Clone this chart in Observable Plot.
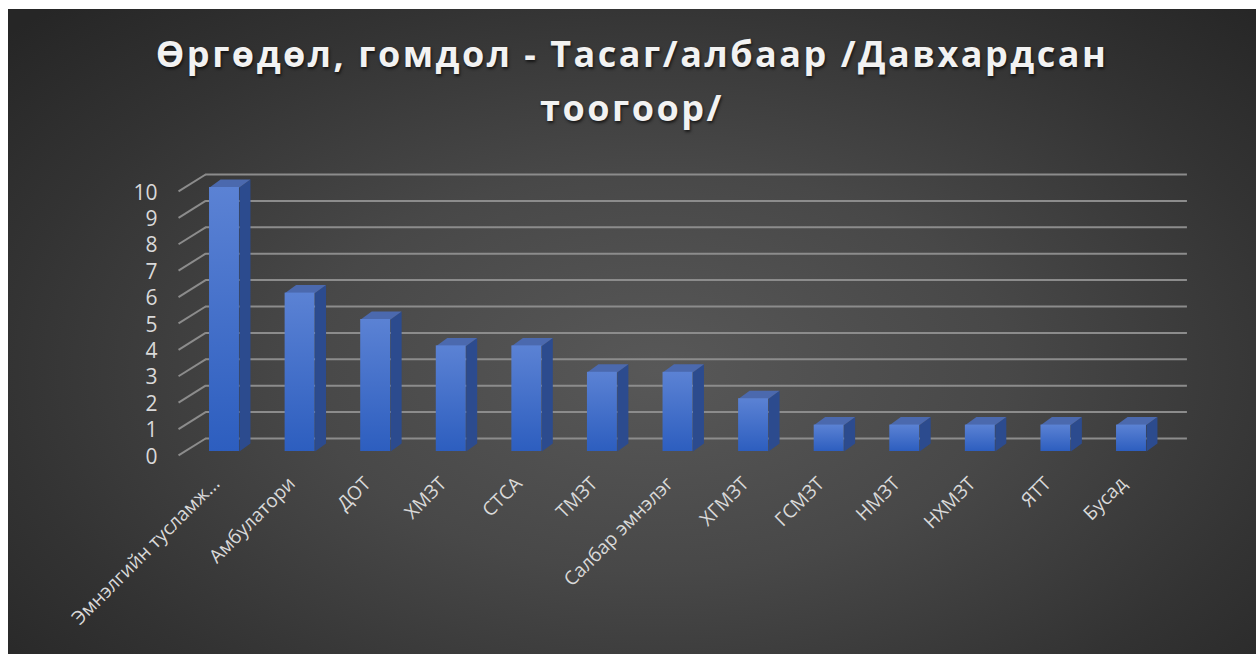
<!DOCTYPE html>
<html><head><meta charset="utf-8">
<script src="https://cdn.jsdelivr.net/npm/d3@7"></script>
<script src="https://cdn.jsdelivr.net/npm/@observablehq/plot@0.6"></script>
<style>
html,body{margin:0;padding:0;background:#fff;}
#chart{position:absolute;left:8px;top:9px;width:1248px;height:645px;overflow:hidden;
background: radial-gradient(ellipse 70% 78% at 52% 56%, #585858 0%, #484848 40%, #333 75%, #262626 100%);}
#title{position:absolute;left:0;top:18px;width:100%;text-align:center;font-family:"Open Sans",sans-serif;font-weight:bold;font-size:36px;letter-spacing:2.5px;line-height:54px;color:#f2f2f2;text-shadow:1px 2px 3px rgba(0,0,0,.65);}
#plot{position:absolute;left:0;top:141px;}
</style>
</head><body>
<div id="chart">
  <div id="title">Өргөдөл, гомдол - Тасаг/албаар /Давхардсан<br>тоогоор/</div>
  <div id="plot"></div>
</div>
<script>
const categories = ["Эмнэлгийн тусламж...", "Амбулатори", "ДОТ", "ХМЗТ", "СТСА", "ТМЗТ", "Салбар эмнэлэг", "ХГМЗТ", "ГСМЗТ", "НМЗТ", "НХМЗТ", "ЯТТ", "Бусад"];
const values = [10, 6, 5, 4, 4, 3, 3, 2, 1, 1, 1, 1, 1];
const yTicks = [0, 1, 2, 3, 4, 5, 6, 7, 8, 9, 10];

// 3D geometry (data units)
const HW = 0.198, OX = 0.1455, OY = 0.303;
const bars = categories.map((c, i) => ({i, c, v: values[i]}));
const topFaces = bars.flatMap(b => [[b.i - HW, b.v], [b.i + HW, b.v], [b.i + HW + OX, b.v + OY], [b.i - HW + OX, b.v + OY]].map(([x, y]) => ({x, y, z: b.i})));
const sideFaces = bars.flatMap(b => [[b.i + HW, 0], [b.i + HW, b.v], [b.i + HW + OX, b.v + OY], [b.i + HW + OX, OY]].map(([x, y]) => ({x, y, z: b.i})));

const plot = Plot.plot({
  width: 1248,
  height: 504,
  style: {background: "transparent", overflow: "visible"},
  x: {type: "linear", domain: [0, 12], range: [216, 1123], axis: null},
  y: {domain: [0, 10], range: [301, 37], axis: null},
  marks: [
    Plot.ruleY(yTicks, {y: d => d, x1: -0.25, x2: 12.74, dy: -13, stroke: "#8c8c8c", strokeWidth: 2}),
    Plot.link(yTicks, {x1: -0.608, x2: -0.25, y1: d => d - 0.15, y2: d => d + 13 / 26.4, stroke: "#8c8c8c", strokeWidth: 2}),
    Plot.ruleY([0], {x1: -0.3, x2: 12.45, stroke: "#000", strokeOpacity: 0.6, strokeWidth: 9, dy: 6}),
    Plot.line(sideFaces, {x: "x", y: "y", z: "z", curve: "linear-closed", fill: "#2c4b8e", stroke: "none"}),
    Plot.line(topFaces, {x: "x", y: "y", z: "z", curve: "linear-closed", fill: "#4b69ae", stroke: "none"}),
    Plot.rect(bars, {x1: d => d.i - HW, x2: d => d.i + HW, y1: 0, y2: "v", fill: "url(#barGrad)"}),
    Plot.text(yTicks, {x: -0.608, y: d => d - 0.2, text: d => String(d), textAnchor: "end", dx: -21, fill: "#d9d9d9", fontSize: 21, fontFamily: "Open Sans"}),
    Plot.text(bars, {x: "i", y: 0, text: "c", rotate: -45, textAnchor: "end", dx: -8, dy: 29, fill: "#d9d9d9", fontSize: 19, fontFamily: "Open Sans"})
  ]
});
plot.insertAdjacentHTML("afterbegin", `<defs>
<linearGradient id="barGrad" x1="0" y1="0" x2="0" y2="1"><stop offset="0" stop-color="#5b82d4"/><stop offset="1" stop-color="#2d5ebf"/></linearGradient>
<filter id="blur" x="-10%" y="-200%" width="120%" height="500%"><feGaussianBlur stdDeviation="4"/></filter>
</defs>`);
const rules = plot.querySelectorAll('g[aria-label="rule"]');
if (rules.length > 1) rules[1].setAttribute("filter", "url(#blur)");
document.getElementById("plot").appendChild(plot);
</script>
</body></html>
